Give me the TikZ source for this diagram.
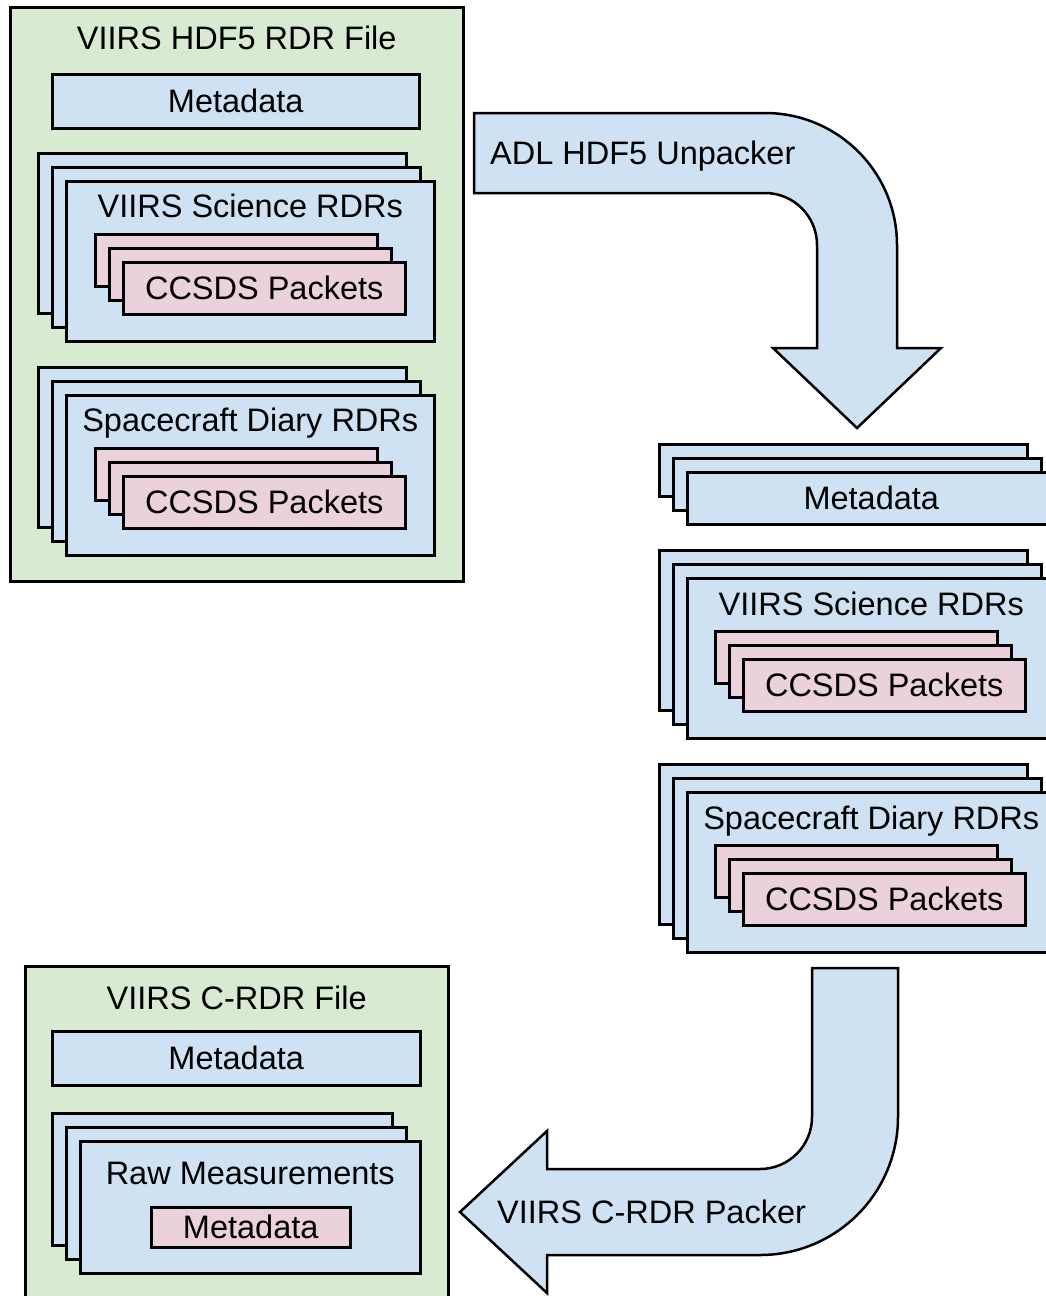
\documentclass[tikz,border=0pt]{standalone}
\usepackage{fontspec}
\setmainfont{Liberation Sans}
\usetikzlibrary{positioning}

\definecolor{rdrblue}{HTML}{CFE2F3}
\definecolor{pktpink}{HTML}{EAD1DC}
\definecolor{filegreen}{HTML}{D9EAD3}

\tikzset{
  lbl/.style={font=\fontsize{32.5}{39}\selectfont, inner sep=0pt, text height=23.3pt, text depth=0pt},
  sheet/.style={draw, line width=2.5pt, fill=rdrblue, anchor=north west, inner sep=0pt, minimum width=368pt, minimum height=160pt, lbl},
  metasheet/.style={sheet, minimum height=53pt},
  pkt/.style={sheet, fill=pktpink, minimum width=282pt, minimum height=52pt},
  filebox/.style={draw, line width=2.5pt, fill=filegreen, anchor=north west, inner sep=0pt},
  bigarrow/.style={draw, line width=2.5pt, fill=rdrblue, line join=miter},
}

\begin{document}
\begin{tikzpicture}[x=1pt, y=-1pt]
  \useasboundingbox (0,0) rectangle (1045,1296);

  % input file
  \node[filebox, minimum width=453pt, minimum height=574pt] (srcfile) at (9,6) {};
  \node[lbl, below=19.5pt of srcfile.north] (srctitle) {VIIRS HDF5 RDR File};
  \node[metasheet, minimum width=367pt, minimum height=54pt] (srcmeta) at (51,73) {Metadata};
  \foreach \y/\nm/\lab in {152/sci/VIIRS Science RDRs, 366/diary/Spacecraft Diary RDRs} {
    \foreach \i in {0,1,2}
      \node[sheet] (src\nm\i) at (37+14*\i, \y+14*\i) {};
    \node[lbl, below=14pt of src\nm2.north] (src\nm title) {\lab};
    \foreach \i/\t in {0/,1/,2/CCSDS Packets}
      \node[pkt] (src\nm pkt\i) at (94+14*\i, \y+81+14*\i) {\t};
  }

  % unpacker
  \draw[bigarrow] (474,113) -- (765,113) arc[start angle=-90, end angle=0, radius=132]
    -- (897,348) -- (941,348) -- (857,428) -- (773,348) -- (817,348) -- (817,245)
    arc[start angle=0, end angle=-90, radius=52] -- (474,193) -- cycle;
  \node[lbl, anchor=west] (unpack) at (490,153) {ADL HDF5 Unpacker};

  % unpacked pieces
  \foreach \i/\t in {0/,1/,2/Metadata}
    \node[metasheet, minimum height=52pt] (outmeta\i) at (658+14*\i, 443+14*\i) {\t};
  \foreach \y/\nm/\lab in {549/sci/VIIRS Science RDRs, 763/diary/Spacecraft Diary RDRs} {
    \foreach \i in {0,1,2}
      \node[sheet] (out\nm\i) at (658+14*\i, \y+14*\i) {};
    \node[lbl, below=14.5pt of out\nm2.north] (out\nm title) {\lab};
    \foreach \i/\t in {0/,1/,2/CCSDS Packets}
      \node[pkt] (out\nm pkt\i) at (714+14*\i, \y+81+14*\i) {\t};
  }

  % packer
  \draw[bigarrow] (812,968) -- (898,968) -- (898,1117) arc[start angle=0, end angle=90, radius=138]
    -- (547,1255) -- (547,1293) -- (460,1212) -- (547,1131) -- (547,1169) -- (760,1169)
    arc[start angle=90, end angle=0, radius=52] -- cycle;
  \node[lbl, anchor=west] (pack) at (497,1212) {VIIRS C-RDR Packer};

  % output file
  \node[filebox, minimum width=423pt, minimum height=400pt] (crdrfile) at (24,965) {};
  \node[lbl, below=20.5pt of crdrfile.north] (crdrtitle) {VIIRS C-RDR File};
  \node[metasheet, minimum width=368pt, minimum height=54pt] (crdrmeta) at (51,1030) {Metadata};
  \foreach \i in {0,1,2}
    \node[sheet, minimum width=340pt, minimum height=132pt] (raw\i) at (51+14*\i, 1112+14*\i) {};
  \node[lbl, below=20.5pt of raw2.north] (rawtitle) {Raw Measurements};
  \node[pkt, minimum width=199pt, minimum height=40pt] (rawmeta) at (150,1206) {Metadata};
\end{tikzpicture}
\end{document}
